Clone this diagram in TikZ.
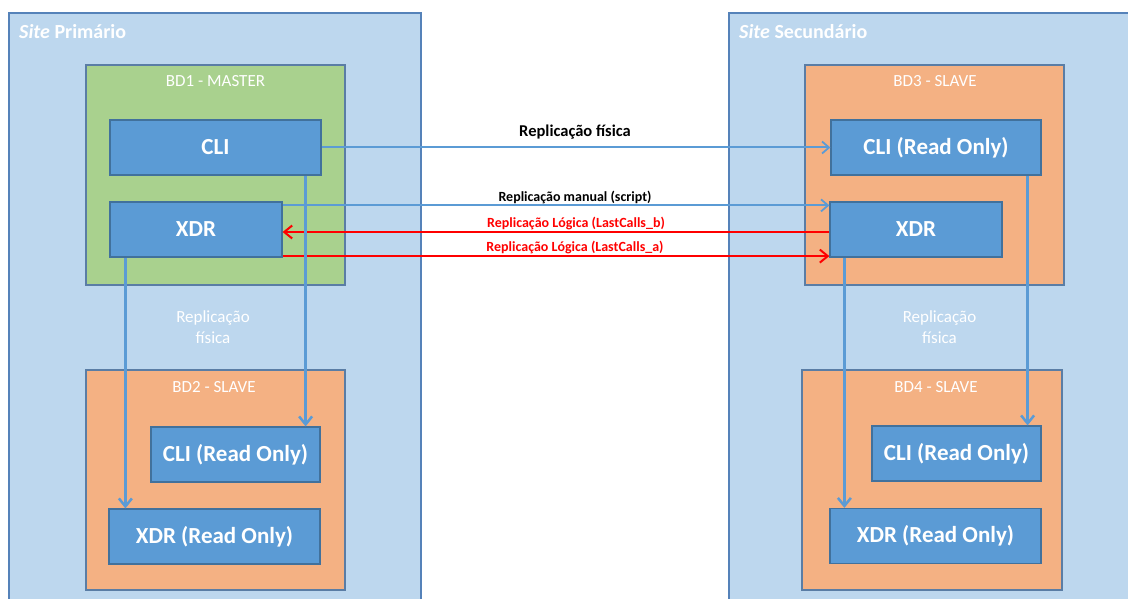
\documentclass[tikz,border=0pt]{standalone}
\usepackage{fontspec}
\setmainfont{Carlito}
\usetikzlibrary{arrows.meta}
\definecolor{sitef}{HTML}{BDD7EE}
\definecolor{siteb}{RGB}{85,130,185}
\definecolor{greenf}{HTML}{A9D18E}
\definecolor{orangef}{HTML}{F4B183}
\definecolor{bdb}{RGB}{90,125,165}
\definecolor{boxf}{HTML}{5B9BD5}
\definecolor{boxb}{HTML}{41719C}
\definecolor{arrb}{HTML}{5B9BD5}
\begin{document}
\begin{tikzpicture}[x=1pt,y=-1pt,
  site/.style={draw=siteb,fill=sitef,line width=1.3pt,inner sep=0pt},
  sitetitle/.style={text=white,inner sep=0pt,font=\fontsize{20}{23}\selectfont\bfseries},
  bdbox/.style={draw=bdb,line width=1.2pt,inner sep=0pt,minimum width=259pt,minimum height=220pt},
  bdlabel/.style={text=white,inner sep=0pt,font=\fontsize{17}{20}\selectfont},
  dbbox/.style={draw=boxb,fill=boxf,line width=1.2pt,inner sep=0pt,text=white,minimum height=55pt,font=\fontsize{23}{27}\selectfont\bfseries},
  phys/.style={text=white,inner sep=0pt,align=center,font=\fontsize{17}{21}\selectfont},
  hconn/.style={draw=arrb,line width=2pt,-{Straight Barb[length=7pt,width=12pt,line width=1.8pt]}},
  vconn/.style={draw=arrb,line width=2.5pt,-{Straight Barb[length=8pt,width=13pt,line width=2.5pt]}},
  rconn/.style={draw=red,line width=2pt,-{Straight Barb[length=8pt,width=13pt,line width=2pt]}},
  albl/.style={inner sep=0pt,font=\fontsize{14}{16}\selectfont\bfseries}
]
\clip (0,0) rectangle (1128,599);
\fill[white] (0,0) rectangle (1128,599);

% sites
\node[site,minimum width=412pt,minimum height=607pt] (s1) at (215,316.5) {};
\node[sitetitle,anchor=west] (s1t) at (19,32) {\textit{Site} Primário};
\node[site,minimum width=411pt,minimum height=607pt] (s2) at (934.5,316.5) {};
\node[sitetitle,anchor=west] (s2t) at (739,32) {\textit{Site} Secundário};

% database boxes
\node[bdbox,fill=greenf] (bd1) at (215.5,175) {};
\node[bdlabel] (bd1l) at (215.5,81) {BD1 - MASTER};
\node[bdbox,fill=orangef] (bd2) at (215.5,480) {};
\node[bdlabel] (bd2l) at (214,387) {BD2 - SLAVE};
\node[bdbox,fill=orangef] (bd3) at (934.5,175) {};
\node[bdlabel] (bd3l) at (935,81) {BD3 - SLAVE};
\node[bdbox,fill=orangef,minimum width=260pt] (bd4) at (932,480) {};
\node[bdlabel] (bd4l) at (936,387) {BD4 - SLAVE};

% inner boxes
\node[dbbox,minimum width=211pt] (cli1) at (215.5,147.5) {CLI};
\node[dbbox,minimum width=172pt] (xdr1) at (196,229.5) {XDR};
\node[dbbox,minimum width=169pt] (cli2) at (235.5,454.5) {CLI (Read Only)};
\node[dbbox,minimum width=211pt] (xdr2) at (214.5,536.5) {XDR (Read Only)};
\node[dbbox,minimum width=210pt] (cli3) at (936,147.5) {CLI (Read Only)};
\node[dbbox,minimum width=172pt] (xdr3) at (916,229.5) {XDR};
\node[dbbox,minimum width=169pt] (cli4) at (956.5,453.5) {CLI (Read Only)};
\node[dbbox,minimum width=211pt] (xdr4) at (935.5,536) {XDR (Read Only)};

% physical replication labels in sites
\node[phys] (p1) at (213,327) {Replicação\\física};
\node[phys] (p2) at (939.5,327) {Replicação\\física};

% horizontal connectors
\draw[hconn] (cli1.east) -- (cli3.west);
\draw[hconn] ([yshift=-4pt]xdr1.north east) -- ([yshift=-4pt]xdr3.north west);
\draw[rconn] ([yshift=-2.5pt]xdr3.west) -- ([yshift=-2.5pt]xdr1.east);
\draw[rconn] ([yshift=1.5pt]xdr1.south east) -- ([yshift=1.5pt]xdr3.south west);

\node[albl] (l1) at (575,132) {\fontsize{16.5}{18}\selectfont Replicação física};
\node[albl] (l2) at (575,197) {Replicação manual (script)};
\node[albl,text=red] (l3) at (576,223) {Replicação Lógica (LastCalls\_b)};
\node[albl,text=red] (l4) at (575,247) {Replicação Lógica (LastCalls\_a)};

% vertical connectors
\draw[vconn] ([xshift=16pt]xdr1.south west) -- ([xshift=16pt]xdr1.south west |- xdr2.north);
\draw[vconn] ([xshift=-16pt]cli1.south east) -- ([xshift=-16pt]cli1.south east |- cli2.north);
\draw[vconn] ([xshift=15pt]xdr3.south west) -- ([xshift=15pt]xdr3.south west |- xdr4.north);
\draw[vconn] ([xshift=-14pt]cli3.south east) -- ([xshift=-14pt]cli3.south east |- cli4.north);
\end{tikzpicture}
\end{document}
